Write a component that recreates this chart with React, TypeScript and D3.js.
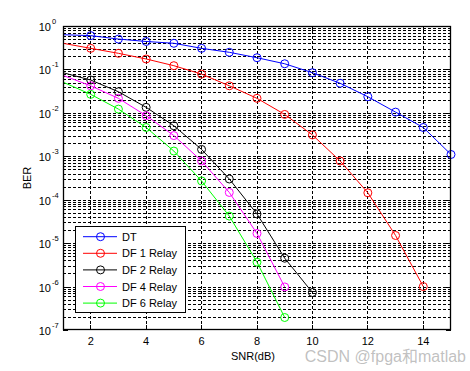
import React, { useEffect, useRef } from "react";
import * as d3 from "d3";

const snr = [1, 2, 3, 4, 5, 6, 7, 8, 9, 10, 11, 12, 13, 14, 15];
const berDT = [0.63, 0.6, 0.5, 0.44, 0.4, 0.306, 0.248, 0.186, 0.135, 0.084, 0.048, 0.0235, 0.0104, 0.0046, 0.0011];
const berDF1 = [0.4, 0.306, 0.235, 0.174, 0.122, 0.078, 0.042, 0.0216, 0.0092, 0.0031, 7.8e-4, 1.44e-4, 1.5e-5, 1.0e-6];
const berDF2 = [0.084, 0.057, 0.0306, 0.0134, 0.00505, 0.00144, 3.0e-4, 4.7e-5, 4.5e-6, 7.3e-7];
const berDF4 = [0.073, 0.042, 0.0216, 0.0086, 0.003, 7.8e-4, 1.47e-4, 1.67e-5, 9.8e-7];
const berDF6 = [0.051, 0.0267, 0.0122, 0.0046, 0.00132, 2.7e-4, 4.2e-5, 3.65e-6, 1.94e-7];

const seriesNames = ["DT", "DF 1 Relay", "DF 2 Relay", "DF 4 Relay", "DF 6 Relay"];
const seriesColors = ["#0000ff", "#ff0000", "#000000", "#ff00ff", "#00ff00"];
const seriesValues = [berDT, berDF1, berDF2, berDF4, berDF6];

const xTicks = [2, 4, 6, 8, 10, 12, 14];
const yExponents = [0, -1, -2, -3, -4, -5, -6, -7];

export default function App() {
  const svgRef = useRef<SVGSVGElement | null>(null);

  useEffect(() => {
    if (!svgRef.current) return;
    const svg = d3.select(svgRef.current);
    svg.selectAll("*").remove();

    const left = 63, right = 451, top = 26, bottom = 330;
    const font = "Liberation Sans, Arial, sans-serif";

    const x = d3.scaleLinear().domain([1, 15]).range([left, right]);
    const y = d3.scaleLog().domain([1e-7, 1]).range([bottom, top]);

    svg.append("rect").attr("width", 470).attr("height", 371).attr("fill", "#fff");

    svg.append("defs").append("clipPath").attr("id", "plot-clip")
      .append("rect").attr("x", left).attr("y", top)
      .attr("width", right - left).attr("height", bottom - top);

    // grid
    const grid = svg.append("g").attr("stroke", "#000").attr("stroke-width", 1)
      .attr("stroke-dasharray", "3,2").attr("shape-rendering", "crispEdges");
    xTicks.forEach((t) => {
      grid.append("line").attr("x1", x(t)).attr("x2", x(t)).attr("y1", top).attr("y2", bottom);
    });
    const minorVals: number[] = [];
    for (let e = -7; e < 0; e++) {
      for (let m = 1; m <= 9; m++) minorVals.push(m * Math.pow(10, e));
    }
    minorVals.forEach((v) => {
      if (v <= 1e-7 || v >= 1) return;
      grid.append("line").attr("x1", left).attr("x2", right)
        .attr("y1", Math.round(y(v)) + 0.5).attr("y2", Math.round(y(v)) + 0.5);
    });

    // ticks
    const ticks = svg.append("g").attr("stroke", "#000").attr("shape-rendering", "crispEdges");
    xTicks.forEach((t) => {
      ticks.append("line").attr("x1", x(t)).attr("x2", x(t)).attr("y1", bottom).attr("y2", bottom - 5);
      ticks.append("line").attr("x1", x(t)).attr("x2", x(t)).attr("y1", top).attr("y2", top + 5);
    });
    minorVals.forEach((v) => {
      const len = Number.isInteger(Math.log10(v)) ? 5 : 3;
      const yy = Math.round(y(v)) + 0.5;
      ticks.append("line").attr("x1", left).attr("x2", left + len).attr("y1", yy).attr("y2", yy);
      ticks.append("line").attr("x1", right).attr("x2", right - len).attr("y1", yy).attr("y2", yy);
    });

    // series
    const line = d3.line<number>().x((_, i) => x(snr[i])).y((d) => y(d));
    const plot = svg.append("g").attr("clip-path", "url(#plot-clip)");
    seriesValues.forEach((vals, k) => {
      plot.append("path").datum(vals).attr("d", line).attr("fill", "none")
        .attr("stroke", seriesColors[k]).attr("stroke-width", 1);
    });
    seriesValues.forEach((vals, k) => {
      svg.append("g").selectAll("circle")
        .data(vals.map((v, i) => ({ sx: snr[i], v })).filter((d) => d.sx > 1))
        .enter().append("circle")
        .attr("cx", (d) => x(d.sx)).attr("cy", (d) => y(d.v)).attr("r", 4)
        .attr("fill", "none").attr("stroke", seriesColors[k]).attr("stroke-width", 1);
    });

    // axes box
    svg.append("rect").attr("x", left + 0.5).attr("y", top + 0.5)
      .attr("width", right - left - 1).attr("height", bottom - top - 1)
      .attr("fill", "none").attr("stroke", "#000").attr("stroke-width", 1.3);

    // tick labels
    xTicks.forEach((t) => {
      svg.append("text").attr("x", x(t)).attr("y", 345).attr("text-anchor", "middle")
        .style("font-family", font).style("font-size", "11px").text(t);
    });
    yExponents.forEach((e) => {
      const yy = y(Math.pow(10, e));
      const tx = svg.append("text").attr("x", 51).attr("y", yy + 5).attr("text-anchor", "end")
        .style("font-family", font).style("font-size", "11px");
      tx.text("10");
      svg.append("text").attr("x", 52).attr("y", yy - 2)
        .style("font-family", font).style("font-size", "7.5px").text(e === 0 ? "0" : `-${-e}`);
    });

    svg.append("text").attr("transform", `translate(31,${(top + bottom) / 2}) rotate(-90)`)
      .attr("text-anchor", "middle").style("font-family", font).style("font-size", "11px").text("BER");
    svg.append("text").attr("x", 253).attr("y", 360).attr("text-anchor", "middle")
      .style("font-family", font).style("font-size", "11px").text("SNR(dB)");

    // legend
    const lg = svg.append("g");
    lg.append("rect").attr("x", 75.5).attr("y", 226.5).attr("width", 110).attr("height", 86)
      .attr("fill", "#fff").attr("stroke", "#000").attr("stroke-width", 1);
    seriesNames.forEach((name, k) => {
      const ly = 236.7 + k * 16.6;
      lg.append("line").attr("x1", 83).attr("x2", 117).attr("y1", ly).attr("y2", ly)
        .attr("stroke", seriesColors[k]);
      lg.append("circle").attr("cx", 100.5).attr("cy", ly).attr("r", 4)
        .attr("fill", "none").attr("stroke", seriesColors[k]);
      lg.append("text").attr("x", 122).attr("y", ly + 4)
        .style("font-family", font).style("font-size", "11px").text(name);
    });

    // watermark
    svg.append("text").attr("x", 466).attr("y", 362).attr("text-anchor", "end")
      .attr("fill", "rgba(140,140,140,0.55)")
      .style("font-family", "Liberation Sans, Noto Sans CJK SC, sans-serif").style("font-size", "16px")
      .text("CSDN @fpga和matlab");
  }, []);

  return (
    <svg ref={svgRef} width={470} height={371}
      style={{ position: "absolute", left: 0, top: 0 }} />
  );
}
